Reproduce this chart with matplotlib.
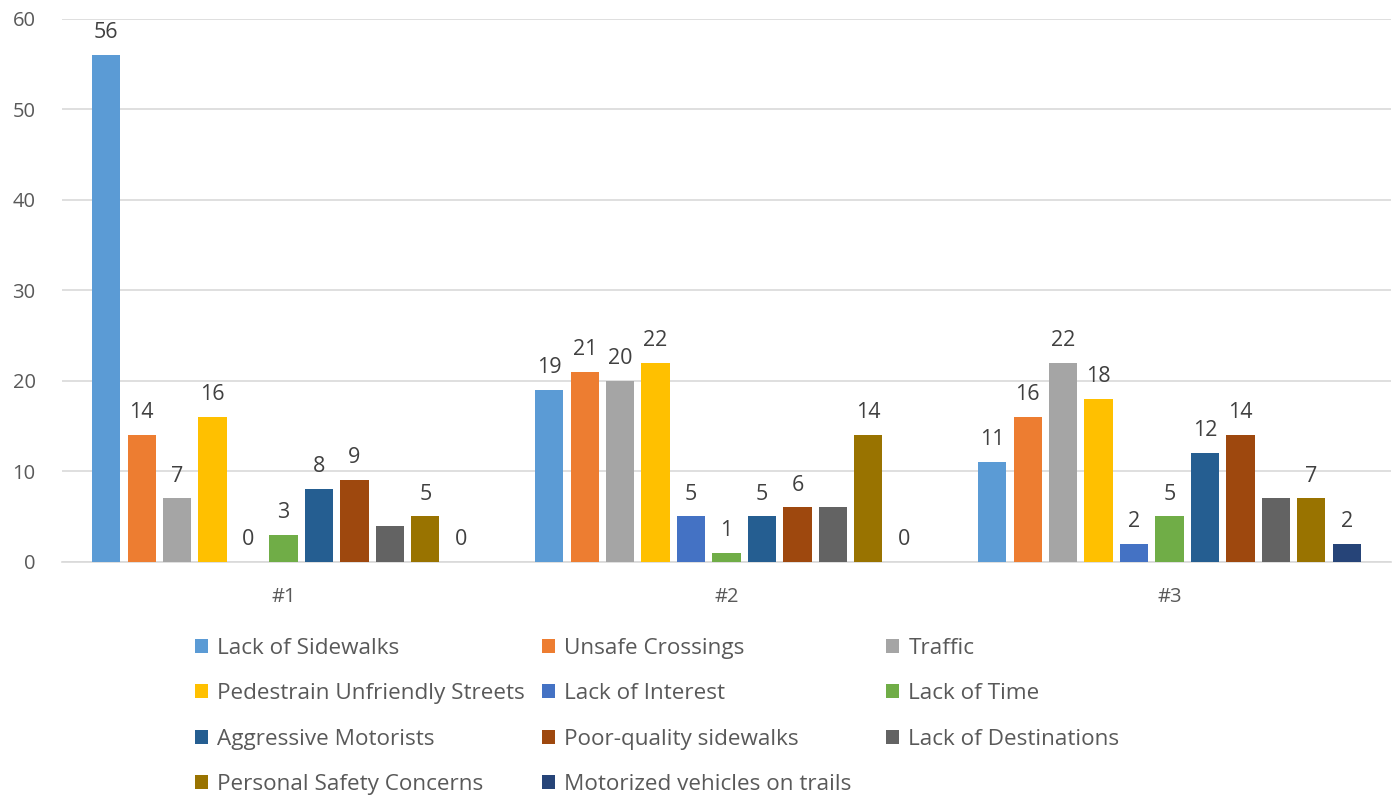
import numpy as np
import matplotlib
matplotlib.use('Agg')
from matplotlib import pyplot as plt

plt.rcParams['font.family'] = ['Open Sans', 'DejaVu Sans']

groups = ['#1', '#2', '#3']
series = ['Lack of Sidewalks', 'Unsafe Crossings', 'Traffic',
          'Pedestrain Unfriendly Streets', 'Lack of Interest', 'Lack of Time',
          'Aggressive Motorists', 'Poor-quality sidewalks', 'Lack of Destinations',
          'Personal Safety Concerns', 'Motorized vehicles on trails']
lackOfSidewalks = [56, 19, 11]
unsafeCrossings = [14, 21, 16]
traffic = [7, 20, 22]
pedestrainUnfriendly = [16, 22, 18]
lackOfInterest = [0, 5, 2]
lackOfTime = [3, 1, 5]
aggressiveMotorists = [8, 5, 12]
poorQualitySidewalks = [9, 6, 14]
lackOfDestinations = [4, 6, 7]
personalSafety = [5, 14, 7]
motorizedVehicles = [0, 0, 2]
values = [lackOfSidewalks, unsafeCrossings, traffic, pedestrainUnfriendly,
          lackOfInterest, lackOfTime, aggressiveMotorists, poorQualitySidewalks,
          lackOfDestinations, personalSafety, motorizedVehicles]
# the destinations series has no data labels in the original
showLabels = [True] * 11
showLabels[8] = False

colors = ['#5B9BD5', '#ED7D31', '#A5A5A5', '#FFC000', '#4472C4', '#70AD47',
          '#255E91', '#9E480E', '#636363', '#997300', '#264478']

figure = plt.figure(figsize=(13.97, 7.95), dpi=100)
axis = figure.add_axes([62 / 1397, 1 - 561.7 / 795, 1329 / 1397, 543 / 795])

x = np.arange(len(groups))
pitch = 0.08
width = 0.064
handles = []
for i, (name, vals) in enumerate(zip(series, values)):
    bars = axis.bar(x + (i - 5) * pitch, vals, width=width, color=colors[i],
                    label=name, zorder=3)
    handles.append(bars)
    if showLabels[i]:
        axis.bar_label(bars, padding=8.5, fontsize=15.5, color='#404040')

axis.set_xlim(-0.5, 2.5)
axis.set_ylim(0, 60)
axis.set_yticks(range(0, 61, 10))
axis.set_xticks(x)
axis.set_xticklabels(groups)
axis.tick_params(axis='both', length=0, labelsize=14.5, labelcolor='#595959')
axis.tick_params(axis='y', pad=19)
axis.tick_params(axis='x', pad=18)
axis.grid(axis='y', color='#D9D9D9', linewidth=1.2, zorder=0)
for side in ('top', 'right', 'left'):
    axis.spines[side].set_visible(False)
axis.spines['bottom'].set_color('#D9D9D9')
axis.spines['bottom'].set_linewidth(1.2)

# legend laid out in three equal columns, filled row by row
columnX = [195, 542, 886]
for col in range(3):
    colHandles = handles[col::3]
    leg = figure.legend(handles=colHandles, labels=[h.get_label() for h in colHandles],
                        loc='upper left', bbox_to_anchor=(columnX[col] / 1397, 1 - 638 / 795),
                        frameon=False, fontsize=16.2, labelcolor='#595959',
                        handlelength=0.58, handleheight=0.58, handletextpad=0.42,
                        labelspacing=1.08, borderpad=0, borderaxespad=0)

plt.savefig('out.png', dpi=100)
